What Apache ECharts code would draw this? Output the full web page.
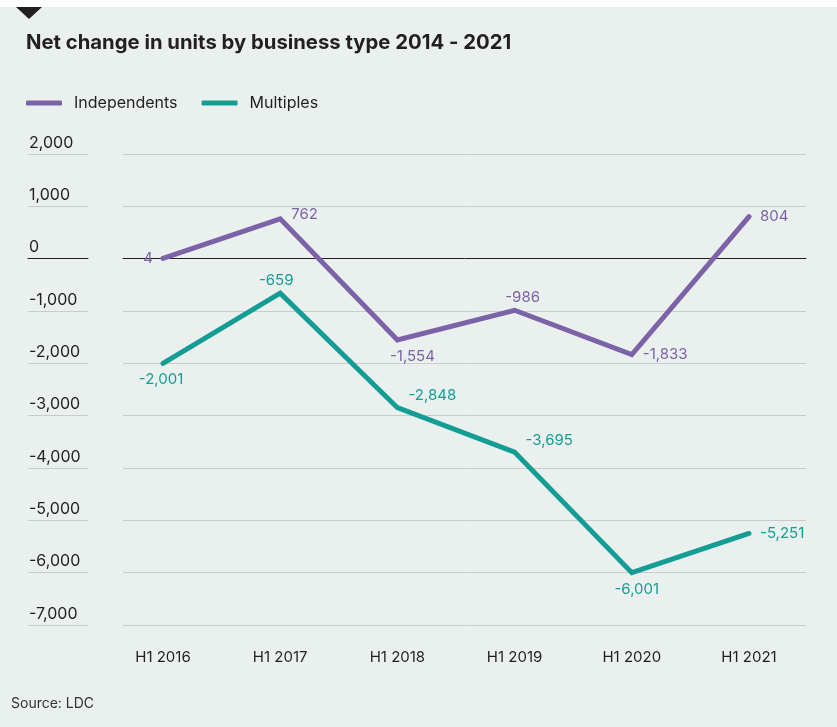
<!DOCTYPE html>
<html>
<head>
<meta charset="utf-8">
<script src="https://cdn.jsdelivr.net/npm/echarts@6/dist/echarts.min.js"></script>
<style>
html,body{margin:0;padding:0;background:#fff;}
#c{width:837px;height:727px;}
</style>
</head>
<body>
<div id="c"></div>
<script>
const categories = ['H1 2016','H1 2017','H1 2018','H1 2019','H1 2020','H1 2021'];
const independents = [4, 762, -1554, -986, -1833, 804];
const multiples = [-2001, -659, -2848, -3695, -6001, -5251];
const yMin = -7000, yMax = 2000, yStep = 1000;

// label placement (styling only)
const indepLabelPos = ['left','right','bottom','top','right','right'];
const indepLabelOff = [[0,0],[0,-4],[15,0],[8,0],[0,0],[0,0]];
const multLabelPos = ['bottom','top','right','right','bottom','right'];
const multLabelOff = [[-2,0],[-4,0],[0,-12],[0,-12],[5,0],[0,0]];

const PURPLE = '#7c62a6', TEAL = '#149d94', BG = '#eaf0ee';
const FONT = 'Inter, "Liberation Sans", Arial, sans-serif';
const DIST = { left: 10, right: 11, top: 5, bottom: 9 };

function fmt(v){ return v.toLocaleString('en-US'); }

function mkData(vals, pos, off){
  return vals.map((v,i)=>({
    value: v,
    label: { position: pos[i], distance: DIST[pos[i]], offset: off[i] }
  }));
}

const chart = echarts.init(document.getElementById('c'), null, {renderer:'canvas'});
chart.setOption({
  backgroundColor: 'transparent',
  animation: false,
  graphic: [
    { type:'rect', shape:{x:0,y:7,width:837,height:720}, style:{fill:BG}, z:-10 },
    { type:'polygon', shape:{points:[[16,7],[42,7],[29,19]]}, style:{fill:'#231f20'} },
    { type:'text', left:26, top:33, style:{text:'Net change in units by business type 2014 - 2021', fill:'#231f20', font:'bold 20.3px '+FONT} },
    { type:'text', left:11, top:697, style:{text:'Source: LDC', fill:'#333', font:'14px '+FONT} }
  ],
  legend: {
    left: 26, top: 95, padding: 0, itemWidth: 36, itemHeight: 5, itemGap: 24,
    icon: 'roundRect',
    textStyle: { fontFamily: FONT, fontSize: 16, color: '#231f20', padding:[0,0,0,7] },
    data: ['Independents','Multiples']
  },
  grid: [
    { left: 123, right: 31, top: 154, bottom: 102 },
    { left: 163, right: 88, top: 154, bottom: 102 },
    { left: 28, width: 60, top: 154, bottom: 102 }
  ],
  xAxis: [
    { gridIndex:0, type:'category', data:categories, show:true,
      axisLine:{show:true, onZero:true, lineStyle:{color:'#231f20', width:1}},
      axisTick:{show:false}, axisLabel:{show:false}, splitLine:{show:false} },
    { gridIndex:1, type:'category', data:categories, boundaryGap:false,
      axisLine:{show:false}, axisTick:{show:false},
      axisLabel:{ fontFamily: FONT, fontSize:15, color:'#231f20', margin:25, letterSpacing:-0.3 } ,
      position:'bottom' },
    { gridIndex:2, type:'category', data:['a'], show:true,
      axisLine:{show:true, onZero:true, lineStyle:{color:'#231f20', width:1}},
      axisTick:{show:false}, axisLabel:{show:false} }
  ],
  yAxis: [
    { gridIndex:0, type:'value', min:yMin, max:yMax, interval:yStep,
      axisLine:{show:false}, axisTick:{show:false}, axisLabel:{show:false},
      splitLine:{show:true, lineStyle:{color:'#c8cccb', width:1}} },
    { gridIndex:1, type:'value', min:yMin, max:yMax, interval:yStep, show:false },
    { gridIndex:2, type:'value', min:yMin, max:yMax, interval:yStep,
      axisLine:{show:false}, axisTick:{show:false},
      axisLabel:{ inside:true, align:'left', verticalAlign:'bottom', margin:0, padding:[0,0,3,1],
        fontFamily: FONT, fontSize:16, color:'#231f20', formatter: v => fmt(v) },
      splitLine:{show:true, lineStyle:{color:'#c8cccb', width:1}} }
  ],
  series: [
    { name:'Independents', type:'line', xAxisIndex:1, yAxisIndex:1,
      data: mkData(independents, indepLabelPos, indepLabelOff),
      symbol:'circle', symbolSize:0.01, showSymbol:true,
      lineStyle:{color:PURPLE, width:5, cap:'round', join:'miter'},
      itemStyle:{color:PURPLE},
      label:{show:true, formatter: p => fmt(p.value), color:PURPLE, fontFamily:FONT, fontSize:15} },
    { name:'Multiples', type:'line', xAxisIndex:1, yAxisIndex:1,
      data: mkData(multiples, multLabelPos, multLabelOff),
      symbol:'circle', symbolSize:0.01, showSymbol:true,
      lineStyle:{color:TEAL, width:5, cap:'round', join:'miter'},
      itemStyle:{color:TEAL},
      label:{show:true, formatter: p => fmt(p.value), color:TEAL, fontFamily:FONT, fontSize:15} }
  ]
});
</script>
</body>
</html>
